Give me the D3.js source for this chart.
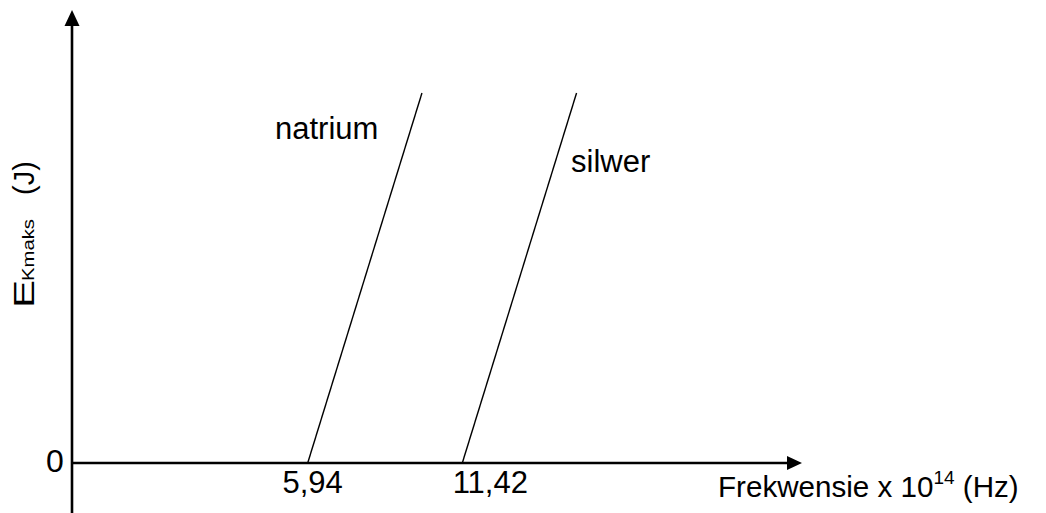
<!DOCTYPE html>
<html>
<head>
<meta charset="utf-8">
<script src="https://cdn.jsdelivr.net/npm/d3@7"></script>
<style>
  body { margin: 0; background: #fff; }
  svg text { font-family: "Liberation Sans", Arial, sans-serif; fill: #000; }
</style>
</head>
<body>
<div id="VizBox"></div>
<script>
// threshold frequencies (x 10^14 Hz) on the x axis
var metals = ["natrium", "silwer"];
var thresholds = [5.94, 11.42];
var tickLabels = ["5,94", "11,42"];

// each line: frequency / Ek pairs (Ek in arbitrary units, picture is a sketch)
var natriumF = [5.94, 9.99];
var natriumE = [0, 4.05];
var silwerF = [11.42, 15.47];
var silwerE = [0, 4.05];

var yTickValues = [0];
var yTickLabels = ["0"];

var width = 1046, height = 513;

var svg = d3.select("#VizBox")
  .append("svg")
    .attr("width", width)
    .attr("height", height);

// the sketch is not to scale from the origin, so the scale is fixed on the two thresholds
var x = d3.scaleLinear()
  .domain([5.94, 11.42])
  .range([307.7, 462.3]);

var y = d3.scaleLinear()
  .domain([0, 4.05])
  .range([463, 93]);

var originX = 72;

// axes as plain arrows
svg.append("line")
  .attr("x1", originX).attr("x2", originX)
  .attr("y1", height).attr("y2", 24)
  .attr("stroke", "#000").attr("stroke-width", 2.6);
svg.append("path")
  .attr("d", "M" + originX + ",10 L" + (originX - 7.5) + ",26 L" + (originX + 7.5) + ",26 Z")
  .attr("fill", "#000");

svg.append("line")
  .attr("x1", originX).attr("x2", 789)
  .attr("y1", y(0)).attr("y2", y(0))
  .attr("stroke", "#000").attr("stroke-width", 2.6);
svg.append("path")
  .attr("d", "M802," + y(0) + " L787," + (y(0) - 7) + " L787," + (y(0) + 7) + " Z")
  .attr("fill", "#000");

// x tick labels (not centred on the points in the original)
var nudge = [5, 28];
svg.append("g")
  .selectAll("text")
  .data(thresholds)
  .enter()
  .append("text")
    .attr("x", function(d, i) { return x(d) + nudge[i]; })
    .attr("y", 493)
    .attr("text-anchor", "middle")
    .style("font-size", "31px")
    .text(function(d, i) { return tickLabels[i]; });

// y tick label
svg.append("g")
  .selectAll("text")
  .data(yTickValues)
  .enter()
  .append("text")
    .attr("x", 55)
    .attr("y", function(d) { return y(d) + 9; })
    .attr("text-anchor", "middle")
    .style("font-size", "32px")
    .text(function(d, i) { return yTickLabels[i]; });

// the two lines
var line = d3.line()
  .x(function(d) { return x(d[0]); })
  .y(function(d) { return y(d[1]); });

var series = [
  d3.zip(natriumF, natriumE),
  d3.zip(silwerF, silwerE)
];

svg.selectAll(".metal")
  .data(series)
  .enter()
  .append("path")
    .attr("class", "metal")
    .attr("d", line)
    .attr("fill", "none")
    .attr("stroke", "#000")
    .attr("stroke-width", 1.4);

// line labels
var labelPos = [[275, 139], [571, 172]];
svg.selectAll(".metalLabel")
  .data(metals)
  .enter()
  .append("text")
    .attr("class", "metalLabel")
    .attr("x", function(d, i) { return labelPos[i][0]; })
    .attr("y", function(d, i) { return labelPos[i][1]; })
    .style("font-size", "31px")
    .text(function(d) { return d; });

// x axis title
var xt = svg.append("text")
  .attr("x", 718)
  .attr("y", 497)
  .style("font-size", "29.6px");
xt.append("tspan").text("Frekwensie x 10");
xt.append("tspan").attr("dy", -13).style("font-size", "19px").text("14");
xt.append("tspan").attr("dy", 13).text(" (Hz)");

// y axis title, rotated
var yt = svg.append("g")
  .attr("transform", "translate(33.5,0) rotate(-90)");
yt.append("text")
  .attr("transform", "translate(-308,0) scale(1.45,1)")
  .style("font-size", "29px")
  .text("E");
yt.append("text")
  .attr("x", -281)
  .attr("textLength", 62)
  .attr("lengthAdjust", "spacingAndGlyphs")
  .style("font-size", "17px")
  .text("Kmaks");
yt.append("text")
  .attr("x", -195)
  .style("font-size", "29px")
  .text("(J)");
</script>
</body>
</html>
